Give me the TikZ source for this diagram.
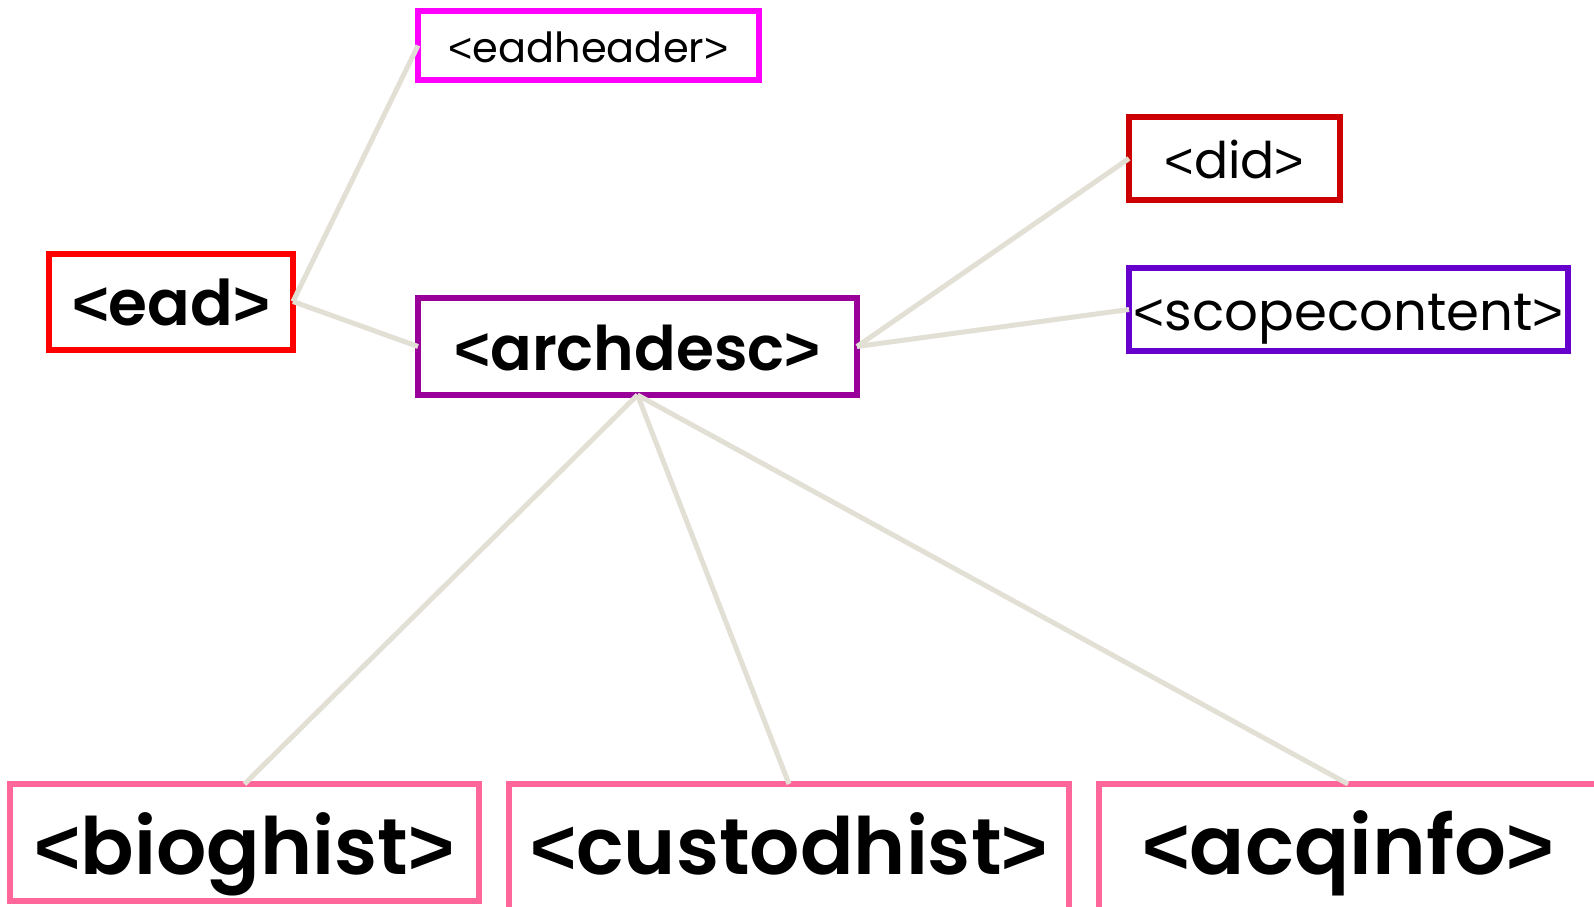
\documentclass[tikz,border=0pt]{standalone}
\usepackage{fontspec}
\setmainfont{Poppins}
\newfontfamily\popsemi{Poppins SemiBold}
\newfontfamily\brk{Liberation Sans}
\newcommand\LT{{\brk <}}
\newcommand\GT{{\brk >}}
\newcommand\LTb{{\brk\bfseries <}}
\newcommand\GTb{{\brk\bfseries >}}
\definecolor{cLine}{HTML}{E2DFD5}
\definecolor{cMag}{HTML}{FF00FF}
\definecolor{cRed}{HTML}{FF0000}
\definecolor{cPur}{HTML}{990099}
\definecolor{cDid}{HTML}{CC0000}
\definecolor{cScope}{HTML}{6600CC}
\definecolor{cPink}{HTML}{FF6699}
\tikzset{
  tag/.style={draw, line width=6pt, fill=white, inner sep=0pt, outer sep=0pt, text=black, text depth=0pt},
  conn/.style={draw=cLine, line width=5pt},
}
\begin{document}
\begin{tikzpicture}[x=1pt, y=-1pt]
\useasboundingbox (0,0) rectangle (1594,906);
\node[tag, draw=cMag, minimum width=341pt, minimum height=69pt, text height=33pt, font=\fontsize{41.5}{43}\selectfont] (eadheader) at (588.5,45.5) {\LT eadheader\GT};
\node[tag, draw=cRed, minimum width=244pt, minimum height=96pt, text height=47pt, font=\fontsize{63}{65}\selectfont\popsemi] (ead) at (171,301.5) {\LTb ead\GTb};
\node[tag, draw=cPur, minimum width=439pt, minimum height=97pt, text height=47pt, font=\fontsize{61.5}{63}\selectfont\popsemi] (archdesc) at (637.5,346.5) {\LTb archdesc\GTb};
\node[tag, draw=cDid, minimum width=211pt, minimum height=83pt, text height=39pt, font=\fontsize{50.5}{52}\selectfont] (did) at (1234.5,158.5) {\LT did\GT};
\node[tag, draw=cScope, minimum width=439pt, minimum height=83pt, text height=41pt, font=\fontsize{53}{55}\selectfont] (scope) at (1348.5,309.5) {\LT scopecontent\GT};
\node[tag, draw=cPink, minimum width=469pt, minimum height=117pt, text height=63pt, font=\fontsize{79}{81}\selectfont\popsemi] (bioghist) at (244.5,842.5) {\LTb bioghist\GTb};
\node[tag, draw=cPink, minimum width=560pt, minimum height=140pt, text height=40pt, font=\fontsize{79}{81}\selectfont\popsemi] (custodhist) at (789,854) {\LTb custodhist\GTb};
\node[tag, draw=cPink, minimum width=498pt, minimum height=140pt, text height=40pt, font=\fontsize{81.5}{83}\selectfont\popsemi] (acqinfo) at (1348,854) {\LTb acqinfo\GTb};
\draw[conn] (ead.east) -- (eadheader.west);
\draw[conn] (ead.east) -- (archdesc.west);
\draw[conn] (archdesc.east) -- (did.west);
\draw[conn] (archdesc.east) -- (scope.west);
\draw[conn] (archdesc.south) -- (bioghist.north);
\draw[conn] (archdesc.south) -- (custodhist.north);
\draw[conn] (archdesc.south) -- (acqinfo.north);
\end{tikzpicture}
\end{document}
